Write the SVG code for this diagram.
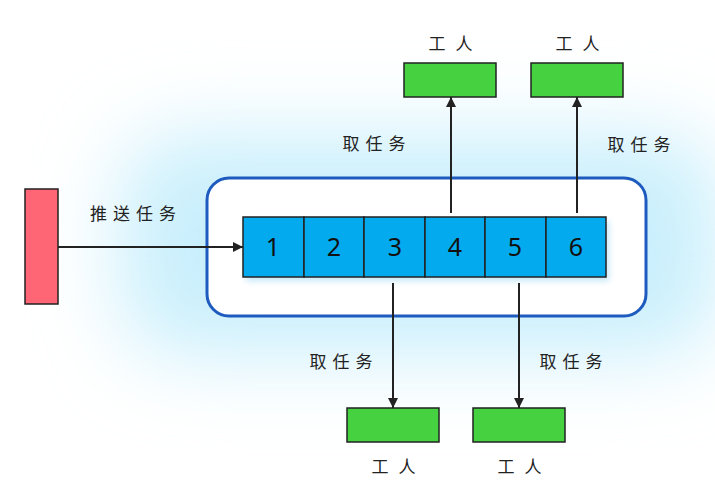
<svg xmlns="http://www.w3.org/2000/svg" width="715" height="484" viewBox="0 0 715 484">
<defs>
<filter id="glow" x="-50%" y="-80%" width="200%" height="260%"><feGaussianBlur stdDeviation="40"/></filter>
<filter id="sh" x="-10%" y="-30%" width="120%" height="160%"><feGaussianBlur stdDeviation="3"/></filter>
<marker id="arr" viewBox="0 0 10 10" refX="10" refY="5" markerWidth="10" markerHeight="10" markerUnits="userSpaceOnUse" orient="auto"><path d="M0,0 L10,5 L0,10 Z" fill="#222"/></marker>
<style>
.t{font-family:"Noto Sans CJK SC","Noto Sans",sans-serif;font-size:17px;fill:#222;text-anchor:middle;letter-spacing:6px}
.w{font-family:"Noto Sans CJK SC","Noto Sans",sans-serif;font-size:17px;fill:#222;text-anchor:middle;letter-spacing:3px}
.n{font-family:"Noto Sans","DejaVu Sans",sans-serif;font-size:25px;fill:#111;text-anchor:middle}
.cell{fill:#04aaee;stroke:#222;stroke-width:1.5}
.green{fill:#46d140;stroke:#222;stroke-width:1.5}
.ln{stroke:#222;stroke-width:2;fill:none}
</style>
</defs>
<rect width="715" height="484" fill="#fff"/>
<rect x="120" y="135" width="600" height="220" rx="60" fill="#c9effc" filter="url(#glow)"/>
<g id="container">
<rect x="207" y="178" width="439" height="138" rx="22" fill="#fff" stroke="#1e5bbf" stroke-width="3"/>
</g>
<g id="producer"><rect x="25" y="189" width="33" height="115" fill="#fe6676" stroke="#222" stroke-width="1.5"/></g>
<g id="queue">
<rect x="246" y="221" width="363" height="60" fill="#9fd8f2" opacity="0.6" filter="url(#sh)"/>
<rect class="cell" x="243" y="217" width="61" height="60"/>
<rect class="cell" x="304" y="217" width="60" height="60"/>
<rect class="cell" x="364" y="217" width="61" height="60"/>
<rect class="cell" x="425" y="217" width="60" height="60"/>
<rect class="cell" x="485" y="217" width="61" height="60"/>
<rect class="cell" x="546" y="217" width="60" height="60"/>
<text class="n" x="273" y="256">1</text>
<text class="n" x="334" y="256">2</text>
<text class="n" x="395" y="256">3</text>
<text class="n" x="455" y="256">4</text>
<text class="n" x="515" y="256">5</text>
<text class="n" x="576" y="256">6</text>
</g>
<g id="worker1"><rect class="green" x="404" y="63" width="92" height="34"/><text class="w" x="452" y="50">工 人</text></g>
<g id="worker2"><rect class="green" x="531" y="63" width="92" height="34"/><text class="w" x="579" y="50">工 人</text></g>
<g id="worker3"><rect class="green" x="347" y="408" width="92" height="34"/><text class="w" x="395" y="473">工 人</text></g>
<g id="worker4"><rect class="green" x="473" y="408" width="92" height="34"/><text class="w" x="521" y="473">工 人</text></g>
<g id="connectors">
<line class="ln" x1="58" y1="247" x2="243" y2="247" marker-end="url(#arr)"/>
<line class="ln" x1="451" y1="213" x2="451" y2="97" marker-end="url(#arr)"/>
<line class="ln" x1="577" y1="213" x2="577" y2="97" marker-end="url(#arr)"/>
<line class="ln" x1="393" y1="283" x2="393" y2="408" marker-end="url(#arr)"/>
<line class="ln" x1="519" y1="283" x2="519" y2="408" marker-end="url(#arr)"/>
<text class="t" x="136" y="220">推送任务</text>
<text class="t" x="377" y="150">取任务</text>
<text class="t" x="642" y="151">取任务</text>
<text class="t" x="344" y="368">取任务</text>
<text class="t" x="574" y="368">取任务</text>
</g>
</svg>
